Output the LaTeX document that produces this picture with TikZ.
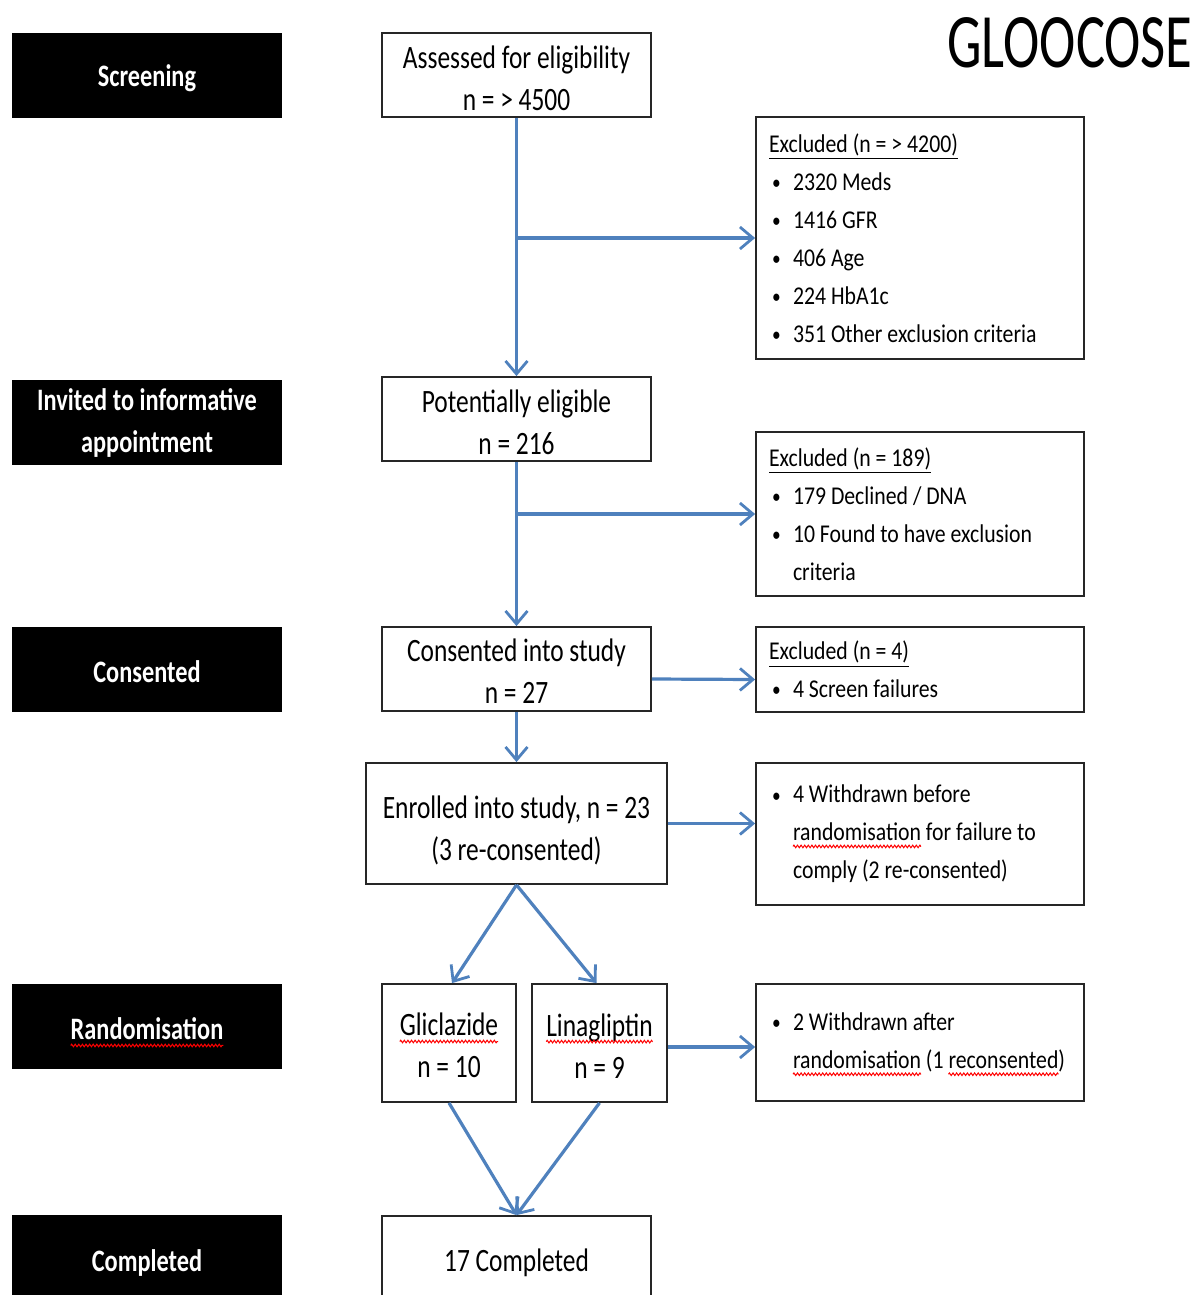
\documentclass[tikz,border=0pt]{standalone}
\usepackage{fontspec}
\setmainfont{Carlito}[FakeStretch=0.78]
\newfontfamily\rfont{Carlito}[FakeStretch=0.85]
\newfontfamily\tfont{Carlito}[FakeStretch=0.71]
\usetikzlibrary{arrows.meta,decorations.pathmorphing}
\definecolor{arrblue}{RGB}{79,129,189}
\newsavebox\sqbox
\newlength\sqlen
\newcommand\sqw[1]{\sbox\sqbox{#1}\settowidth\sqlen{\usebox\sqbox}\leavevmode\rlap{\usebox\sqbox}\tikz[baseline=0pt,x=1pt,y=1pt]{\path (0,0) -- (\sqlen,0); \draw[overlay, red, line width=0.5pt, decorate, decoration={zigzag, amplitude=0.65pt, segment length=1.8pt}] (0,-2.8) -- (\sqlen,-2.8);}}
\newcommand\bl[1]{\hspace*{1.5pt}\makebox[10.5pt][l]{\raisebox{0.4pt}{\scalebox{0.8}{\textbullet}}}#1}
\newcommand\cn[1]{\hspace*{12pt}#1}
\newcommand\up[1]{\rule{0pt}{#1}}
\tikzset{
  lab/.style={fill=black, text=white, minimum width=135pt, minimum height=42.5pt, inner sep=0pt, align=flush center, font=\bfseries\fontsize{15.6}{21}\selectfont},
  mainbox/.style={draw=black!85, line width=0.9pt, fill=white, inner sep=0pt, align=flush center, font=\fontsize{16.3}{21}\selectfont},
  sidebox/.style={draw=black!85, line width=0.9pt, fill=white, inner xsep=6.5pt, inner ysep=0pt, minimum width=164pt, text width=151pt, align=flush left, font=\rfont\fontsize{12.8}{19}\selectfont},
  arr/.style={draw=arrblue, line width=1.6pt, -{Straight Barb[length=6.5pt, width=11pt, line width=1.4pt]}}
}
\begin{document}
\begin{tikzpicture}[x=0.5pt, y=-0.5pt]
\useasboundingbox (0,0) rectangle (1203,1295);
% title
\node (title) at (1070,43) {\tfont\fontsize{38.5}{40}\selectfont GLOOCOSE};
% left labels
\node[lab] (lscreen) at (147,75.5) {\up{14pt}Screening};
\node[lab] (linvite) at (147,422.5) {Invited to informative\\appointment};
\node[lab] (lconsent) at (147,669) {\up{14pt}Consented};
\node[lab] (lrand) at (147,1026) {\up{14pt}\sqw{Randomisation}};
\node[lab, minimum height=47.5pt] (lcomp) at (147,1262.5) {Completed};
% main column
\node[mainbox, minimum width=134.5pt, minimum height=42pt] (assess) at (516.5,75) {\up{15pt}Assessed for eligibility\\n = > 4500};
\node[mainbox, minimum width=134.5pt, minimum height=42pt] (potential) at (516.5,419) {\up{15pt}Potentially eligible\\n = 216};
\node[mainbox, minimum width=134.5pt, minimum height=42pt] (consent) at (516.5,669) {\up{13pt}Consented into study\\n = 27};
\node[mainbox, minimum width=150.5pt, minimum height=60.5pt] (enrol) at (516.5,823.5) {\up{18pt}Enrolled into study, n = 23\\(3 re-consented)};
\node[mainbox, minimum width=67pt, minimum height=59pt] (glic) at (449,1043) {\up{14pt}\sqw{Gliclazide}\\n = 10};
\node[mainbox, minimum width=67.5pt, minimum height=59pt] (lina) at (599.5,1043) {\up{14pt}\sqw{Linagliptin}\\n = 9};
\node[mainbox, minimum width=134.5pt, minimum height=47pt] (comp) at (516.5,1263) {17 Completed};
% side boxes
\node[sidebox, minimum height=121pt] (excl1) at (920,238) {\underline{Excluded (n = > 4200)}\\\bl{2320 Meds}\\\bl{1416 GFR}\\\bl{406 Age}\\\bl{224 HbA1c}\\\bl{351 Other exclusion criteria}};
\node[sidebox, minimum height=82pt] (excl2) at (920,514) {\underline{Excluded (n = 189)}\\\bl{179 Declined / DNA}\\\bl{10 Found to have exclusion}\\\cn{criteria}};
\node[sidebox, minimum height=42.5pt] (excl3) at (920,669.5) {\underline{Excluded (n = 4)}\\\bl{4 Screen failures}};
\node[sidebox, minimum height=71pt] (excl4) at (920,834) {\bl{4 Withdrawn before}\\\cn{\sqw{randomisation} for failure to}\\\cn{comply (2 re-consented)}};
\node[sidebox, minimum height=58.5pt] (excl5) at (920,1042.5) {\bl{2 Withdrawn after}\\\cn{\sqw{randomisation} (1 \sqw{reconsented})}};
% connectors
\draw[arr] (assess.south) -- (potential.north);
\draw[arr] (assess.south |- excl1.west) -- (excl1.west);
\draw[arr] (potential.south) -- (consent.north);
\draw[arr] (potential.south |- excl2.west) -- (excl2.west);
\draw[arr] ([yshift=-5pt]consent.east) -- ([yshift=-5pt]excl3.west);
\draw[arr] (consent.south) -- (enrol.north);
\draw[arr] (enrol.east) -- (enrol.east -| excl4.west);
\draw[arr] (enrol.south) -- ([xshift=1.5pt]glic.north);
\draw[arr] (enrol.south) -- ([xshift=-1.5pt]lina.north);
\draw[arr] ([yshift=-2pt]lina.east) -- ([yshift=-2pt]lina.east -| excl5.west);
\draw[arr] (glic.south) -- (comp.north);
\draw[arr] (lina.south) -- (comp.north);
\end{tikzpicture}
\end{document}
